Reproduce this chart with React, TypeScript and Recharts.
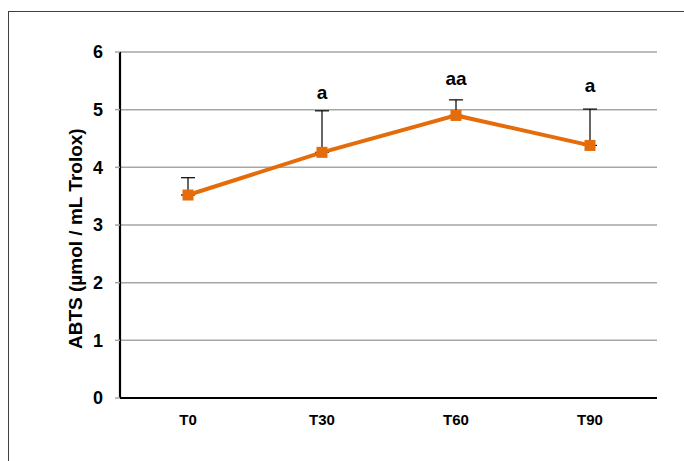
import { LineChart, Line, XAxis, YAxis, CartesianGrid, ErrorBar, LabelList } from 'recharts'

// ─── Data ─────────────────────────────────────────────────────────────────────
const TIMES   = ['T0', 'T30', 'T60', 'T90']
const ABTS    = [3.52, 4.26, 4.9, 4.38]
const SD_UP   = [0.3, 0.72, 0.27, 0.63]
const LETTERS = ['', 'a', 'aa', 'a']
const LETTER_AT = [null, 5.3, 5.55, 5.42] // height (in y units) where the significance letter sits
const Y_TICKS = [0, 1, 2, 3, 4, 5, 6]

const ORANGE = '#E46C0A'
const GRID   = '#A6A6A6'
const FONT   = '"Liberation Sans", Arial, sans-serif'

const data = TIMES.map((t, i) => ({
  t,
  v: ABTS[i],
  err: [0, SD_UP[i]],
  letterAt: LETTER_AT[i],
  letter: LETTERS[i],
}))

function Square({ cx, cy }: { cx?: number; cy?: number }) {
  if (cx == null || cy == null) return null
  return <rect x={cx - 5.5} y={cy - 5.5} width={11} height={11} fill={ORANGE} />
}

export default function App() {
  return (
    <div style={{ position: 'absolute', left: 0, top: 0, width: 684, height: 461, background: '#fff', overflow: 'hidden' }}>
      <div style={{ position: 'absolute', left: 8, top: 11, width: 700, height: 480, border: '1px solid #404040' }} />
      <div style={{ position: 'absolute', left: 0, top: 0 }}>
        <LineChart width={684} height={461} data={data} margin={{ top: 52, right: 27, left: 60, bottom: 33 }}>
          <CartesianGrid stroke={GRID} strokeWidth={1.5} vertical={false} horizontalValues={Y_TICKS} />
          <XAxis
            dataKey="t"
            padding={{ left: 68, right: 67 }}
            tickLine={false}
            tickSize={0}
            tickMargin={16}
            height={30}
            axisLine={{ stroke: '#000', strokeWidth: 2.2 }}
            tick={{ fill: '#000', fontSize: 15, fontWeight: 700, fontFamily: FONT }}
          />
          <YAxis
            domain={[0, 6]}
            ticks={Y_TICKS}
            width={60}
            tickSize={5}
            tickMargin={12}
            tickLine={{ stroke: GRID, strokeWidth: 1.5 }}
            axisLine={{ stroke: '#000', strokeWidth: 2.2 }}
            tick={{ fill: '#000', fontSize: 18, fontWeight: 700, fontFamily: FONT }}
            label={{
              value: 'ABTS (µmol / mL Trolox)',
              angle: -90,
              position: 'insideLeft',
              dx: 10,
              dy: 124,
              style: { fill: '#000', fontSize: 19, fontWeight: 700, fontFamily: FONT },
            }}
          />
          {/* error bars on a hidden copy so the markers sit on top of them */}
          <Line dataKey="v" stroke="none" dot={false} activeDot={false} isAnimationActive={false} legendType="none">
            <ErrorBar dataKey="err" direction="y" width={7} stroke="#000" strokeWidth={1.2} />
          </Line>
          <Line dataKey="letterAt" stroke="none" dot={false} activeDot={false} isAnimationActive={false} legendType="none">
            <LabelList dataKey="letter" position="center" style={{ fill: '#000', fontSize: 19, fontWeight: 700, fontFamily: FONT }} />
          </Line>
          <Line dataKey="v" stroke={ORANGE} strokeWidth={4} dot={<Square />} activeDot={false} isAnimationActive={false} />
        </LineChart>
      </div>
    </div>
  )
}
